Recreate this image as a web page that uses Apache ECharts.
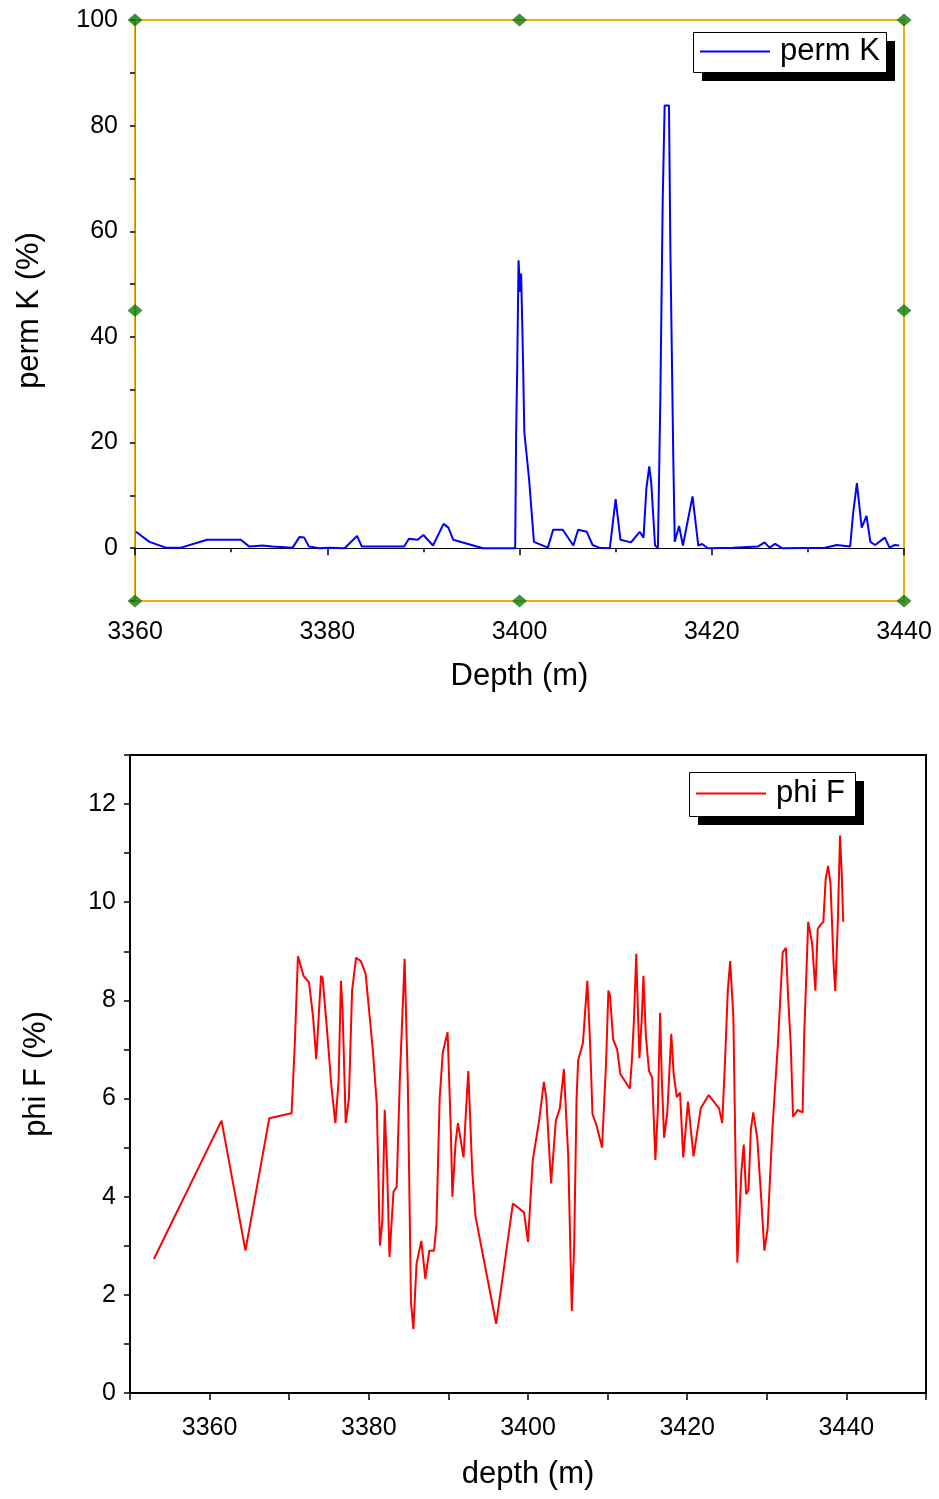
<!DOCTYPE html>
<html>
<head>
<meta charset="utf-8">
<script src="https://cdn.jsdelivr.net/npm/echarts@6/dist/echarts.min.js"></script>
<style>
  html, body { margin: 0; padding: 0; background: #fff; }
  #chart { width: 939px; height: 1499px; }
</style>
</head>
<body>
<div id="chart"></div>
<script>
// perm K vs depth (top panel)
const permDepth = [
  3360.1, 3361.5, 3363.2, 3364.8, 3367.5, 3371.0, 3371.9, 3373.3, 3374.3, 3376.4,
  3377.1, 3377.6, 3378.1, 3379.2, 3380.2, 3381.8, 3383.1, 3383.6, 3386.3, 3388.0,
  3388.5, 3389.4, 3390.0, 3391.0, 3392.1, 3392.6, 3393.1, 3396.2, 3399.55, 3399.65,
  3399.76, 3399.9, 3400.07, 3400.17, 3400.35, 3400.5, 3401.0, 3401.5, 3402.95, 3403.5,
  3404.5, 3405.6, 3406.1, 3407.0, 3407.6, 3408.3, 3409.4, 3410.0, 3410.5, 3411.6,
  3412.5, 3412.9, 3413.2, 3413.5, 3413.7, 3414.1, 3414.4, 3414.65, 3414.9, 3415.1,
  3415.55, 3415.7, 3416.0, 3416.15, 3416.6, 3417.0, 3418.0, 3418.6, 3419.0, 3419.6,
  3422.2, 3424.8, 3425.5, 3426.0, 3426.6, 3427.3, 3431.8, 3433.0, 3434.4, 3434.7,
  3435.1, 3435.6, 3436.1, 3436.5, 3437.0, 3438.0, 3438.5, 3439.0, 3439.5
];
const permValue = [
  3.1, 1.2, 0.1, 0.1, 1.6, 1.6, 0.3, 0.5, 0.3, 0.1,
  2.1, 2.0, 0.3, 0.0, 0.1, 0.0, 2.3, 0.3, 0.3, 0.3,
  1.8, 1.6, 2.5, 0.5, 4.6, 3.9, 1.6, 0.0, 0.0, 21.5,
  34, 54.5, 48.5, 52, 37, 22, 13, 1.2, 0.1, 3.5,
  3.5, 0.5, 3.5, 3.1, 0.6, 0.1, 0.0, 9.3, 1.6, 1.1,
  3.1, 2.0, 11.3, 15.5, 12.5, 0.5, 0.1, 28, 66, 83.8,
  83.8, 56, 17, 1.2, 4.2, 0.5, 9.8, 0.5, 0.8, 0.0,
  0.1, 0.3, 1.1, 0.1, 0.8, 0.0, 0.1, 0.6, 0.3, 6.5,
  12.3, 3.9, 6.1, 1.2, 0.6, 2.0, 0.1, 0.6, 0.5
];

// phi F vs depth (bottom panel)
const phiDepth = [
  3353.0, 3361.5, 3364.5, 3367.5, 3370.3, 3370.7, 3371.1, 3371.8, 3372.5, 3373.0,
  3373.4, 3373.7, 3374.0, 3374.2, 3374.7, 3375.3, 3375.8, 3376.2, 3376.5, 3376.7,
  3377.1, 3377.5, 3377.9, 3378.4, 3379.0, 3379.6, 3380.5, 3381.0, 3381.4, 3381.7,
  3382.0, 3382.3, 3382.6, 3383.1, 3383.5, 3383.9, 3384.5, 3384.9, 3385.3, 3385.6,
  3386.0, 3386.6, 3387.1, 3387.6, 3388.2, 3388.5, 3388.9, 3389.3, 3389.9, 3390.3,
  3390.5, 3390.9, 3391.2, 3391.9, 3392.2, 3392.5, 3393.0, 3393.4, 3396.0, 3398.1,
  3399.5, 3400.0, 3400.6, 3401.4, 3402.0, 3402.3, 3402.9, 3403.5, 3404.0, 3404.5,
  3405.05, 3405.5, 3405.8, 3406.1, 3406.3, 3406.9, 3407.45, 3407.8, 3408.1, 3408.6,
  3409.3, 3409.8, 3410.1, 3410.3, 3410.7, 3411.2, 3411.6, 3412.8, 3413.05, 3413.3,
  3413.6, 3413.8, 3414.0, 3414.3, 3414.5, 3414.8, 3415.2, 3415.6, 3416.0, 3416.3,
  3416.6, 3416.8, 3417.1, 3417.5, 3418.0, 3418.3, 3418.7, 3419.1, 3419.5, 3420.1,
  3420.8, 3421.7, 3422.7, 3424.0, 3424.4, 3424.8, 3425.1, 3425.4, 3425.8, 3426.1,
  3426.3, 3426.8, 3427.1, 3427.4, 3427.7, 3428.0, 3428.3, 3428.8, 3429.3, 3429.7,
  3430.1, 3430.7, 3431.4, 3432.0, 3432.4, 3432.7, 3433.0, 3433.3, 3433.9, 3434.2,
  3434.5, 3434.7, 3435.2, 3435.4, 3435.7, 3436.1, 3436.4, 3436.8, 3437.1, 3437.4,
  3437.7, 3438.0, 3438.4, 3438.6, 3438.9, 3439.2, 3439.4, 3439.6
];
const phiValue = [
  2.73, 5.55, 2.9, 5.6, 5.7, 7.1, 8.9, 8.5, 8.36, 7.66,
  6.8, 7.66, 8.5, 8.45, 7.5, 6.25, 5.5, 6.34, 8.4, 7.83,
  5.5, 6.0, 8.2, 8.87, 8.8, 8.54, 7.0, 5.9, 3.0, 3.5,
  5.77, 4.6, 2.77, 4.1, 4.2, 6.4, 8.85, 6.34, 1.85, 1.3,
  2.64, 3.1, 2.33, 2.9, 2.9, 3.43, 6.0, 6.95, 7.35, 5.37,
  4.0, 5.1, 5.5, 4.8, 5.72, 6.56, 4.5, 3.6, 1.41, 3.86,
  3.68, 3.08, 4.75, 5.55, 6.34, 6.0, 4.27, 5.55, 5.8, 6.6,
  4.84, 1.67, 3.0, 6.0, 6.78, 7.13, 8.4, 7.13, 5.68, 5.46,
  5.0, 6.7, 8.2, 8.1, 7.2, 7.0, 6.5, 6.2, 6.78, 7.57,
  8.95, 7.83, 6.82, 7.66, 8.5, 7.3, 6.56, 6.43, 4.75, 5.72,
  7.75, 6.43, 5.2, 5.72, 7.32, 6.5, 6.03, 6.12, 4.8, 5.94,
  4.82, 5.8, 6.07, 5.8, 5.5, 6.95, 8.2, 8.8, 7.66, 4.5,
  2.66, 4.5, 5.06, 4.05, 4.14, 5.37, 5.72, 5.2, 3.96, 2.9,
  3.35, 5.37, 7.13, 8.98, 9.07, 8.0, 7.13, 5.63, 5.77, 5.74,
  5.72, 7.3, 9.6, 9.64, 9.15, 8.2, 9.46, 9.55, 9.6, 10.48,
  10.74, 10.39, 8.71, 8.19, 9.5, 11.36, 10.65, 9.6
];

// selection handles drawn on the top frame (depth, value)
const handleDepth = [3360, 3400, 3440, 3360, 3440, 3360, 3400, 3440];
const handleValue = [100, 100, 100, 45, 45, -10, -10, -10];

const FONT = "'Liberation Sans', Arial, sans-serif";

const chart = echarts.init(document.getElementById("chart"), null, { renderer: "canvas" });

const zip = (xs, ys) => xs.map((x, i) => [x, ys[i]]);

const tickLabel = { color: "#000", fontFamily: FONT, fontSize: 25 };
const nameStyle = { color: "#000", fontFamily: FONT, fontSize: 31 };

const legendBase = {
  orient: "horizontal",
  icon: "rect",
  itemWidth: 70,
  itemHeight: 2,
  itemGap: 0,
  z: 10,
  textStyle: { color: "#000", fontFamily: FONT, fontSize: 31, padding: [0, 0, 0, 5] },
};

// legend frame with a hard drop shadow, like the Origin legend box
const legendFrame = (x, y, w, h) => [
  { type: "rect", left: x + 9, top: y + 9, z: 8, shape: { width: w, height: h }, style: { fill: "#000" } },
  { type: "rect", left: x, top: y, z: 9, shape: { width: w, height: h }, style: { fill: "#fff", stroke: "#000", lineWidth: 1 } },
];

const option = {
  animation: false,
  backgroundColor: "#fff",
  graphic: [...legendFrame(693, 32, 193, 40), ...legendFrame(689, 772, 166, 44)],
  legend: [
    { ...legendBase, data: ["perm K"], left: 694, top: 34, padding: [2, 6, 2, 6] },
    { ...legendBase, data: ["phi F"], left: 690, top: 776, padding: [2, 6, 2, 6] },
  ],
  grid: [
    {
      left: 135, top: 20, width: 769, height: 581,
      show: true, borderColor: "#EDB200", borderWidth: 2, backgroundColor: "#fff",
    },
    {
      left: 130, top: 755, width: 796, height: 638,
      show: true, borderColor: "#000", borderWidth: 2, backgroundColor: "#fff",
    },
  ],
  xAxis: [
    {
      gridIndex: 0,
      type: "value",
      min: 3360,
      max: 3440,
      interval: 20,
      name: "Depth (m)",
      nameLocation: "middle",
      nameGap: 60,
      nameTextStyle: nameStyle,
      axisLine: { lineStyle: { color: "#000", width: 1 } },
      axisTick: { length: 7, lineStyle: { color: "#000", width: 1.5 } },
      minorTick: { show: true, splitNumber: 2, length: 4, lineStyle: { color: "#000", width: 1.5 } },
      axisLabel: { ...tickLabel, margin: 19, formatter: (v) => String(v) },
      splitLine: { show: false },
    },
    {
      gridIndex: 1,
      type: "value",
      min: 3350,
      max: 3450,
      interval: 10,
      name: "depth (m)",
      nameLocation: "middle",
      nameGap: 66,
      nameTextStyle: nameStyle,
      axisLine: { lineStyle: { color: "#000", width: 2 } },
      axisTick: { length: 7, lineStyle: { color: "#000", width: 1.5 } },
      axisLabel: {
        ...tickLabel,
        margin: 23,
        formatter: (v) => (v % 20 === 0 ? String(v) : ""),
      },
      splitLine: { show: false },
    },
  ],
  yAxis: [
    {
      gridIndex: 0,
      type: "value",
      min: -10,
      max: 100,
      interval: 10,
      name: "perm K (%)",
      nameLocation: "middle",
      nameGap: 90,
      nameTextStyle: nameStyle,
      axisLine: { show: true, lineStyle: { color: "#888", width: 1 } },
      axisTick: { show: true, length: 5, lineStyle: { color: "#000", width: 1.5 } },
      axisLabel: {
        ...tickLabel,
        margin: 17,
        formatter: (v) => (v >= 0 && v % 20 === 0 ? String(v) : ""),
      },
      splitLine: { show: false },
    },
    {
      gridIndex: 1,
      type: "value",
      min: 0,
      max: 13,
      interval: 1,
      name: "phi F (%)",
      nameLocation: "middle",
      nameGap: 78,
      nameTextStyle: nameStyle,
      axisLine: { show: true, lineStyle: { color: "#000", width: 2 } },
      axisTick: { show: true, length: 6, lineStyle: { color: "#000", width: 1.5 } },
      axisLabel: {
        ...tickLabel,
        margin: 14,
        formatter: (v) => (v % 2 === 0 && v <= 12 ? String(v) : ""),
      },
      splitLine: { show: false },
    },
  ],
  series: [
    {
      name: "perm K",
      type: "line",
      xAxisIndex: 0,
      yAxisIndex: 0,
      data: zip(permDepth, permValue),
      symbol: "none",
      lineStyle: { color: "#0000FF", width: 2 },
      itemStyle: { color: "#0000FF" },
    },
    {
      name: "handles",
      type: "scatter",
      xAxisIndex: 0,
      yAxisIndex: 0,
      data: zip(handleDepth, handleValue),
      symbol: "diamond",
      symbolSize: [15, 13],
      clip: false,
      itemStyle: { color: "#0B7A0B" },
      silent: true,
      z: 5,
    },
    {
      name: "phi F",
      type: "line",
      xAxisIndex: 1,
      yAxisIndex: 1,
      data: zip(phiDepth, phiValue),
      symbol: "none",
      lineStyle: { color: "#FF0000", width: 2 },
      itemStyle: { color: "#FF0000" },
    },
  ],
};

chart.setOption(option);
</script>
</body>
</html>
